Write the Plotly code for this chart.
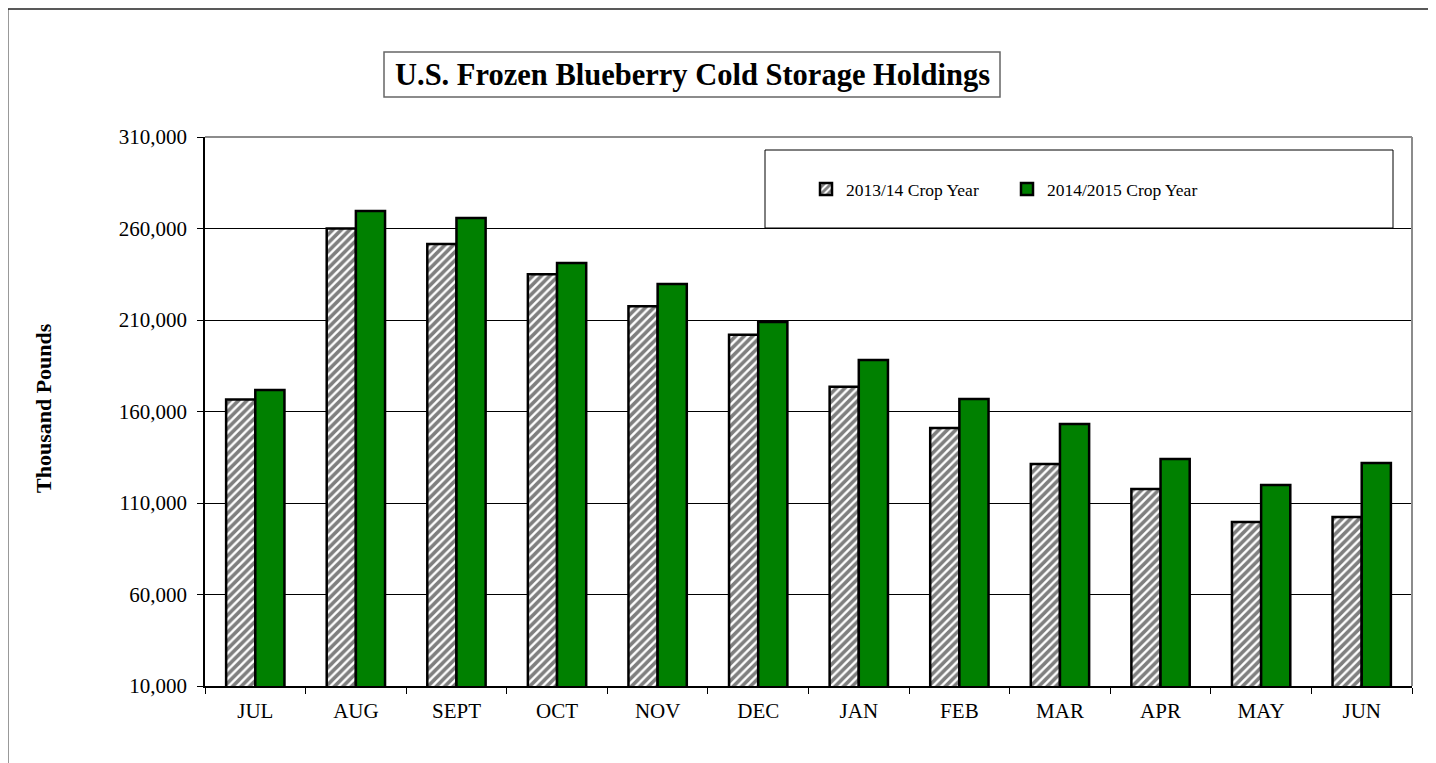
import plotly.graph_objects as go

months = ["JUL", "AUG", "SEPT", "OCT", "NOV", "DEC", "JAN", "FEB", "MAR", "APR", "MAY", "JUN"]
crop_2013_14 = [166500, 260000, 251500, 235000, 217500, 202000, 173500, 151000, 131300, 117700, 99600, 102300]
crop_2014_15 = [171700, 269600, 265700, 241100, 229700, 208900, 188100, 166800, 153200, 134000, 119800, 131900]
series_names = ["2013/14 Crop Year", "2014/2015 Crop Year"]
y_ticks = [10000, 60000, 110000, 160000, 210000, 260000, 310000]

FONT = "Liberation Serif"
OFF = 8  # page body margin

fig = go.Figure()
fig.add_trace(go.Bar(
    x=months, y=crop_2013_14, name=series_names[0],
    marker=dict(color="white", line=dict(color="black", width=2.5),
                pattern=dict(shape="/", fgcolor="black", bgcolor="white", size=6, solidity=0.6)),
))
fig.add_trace(go.Bar(
    x=months, y=crop_2014_15, name=series_names[1],
    marker=dict(color="#008000", line=dict(color="black", width=2.5)),
))

# plot area in page pixel coordinates
L, R, T, B = 205, 1412, 137, 686
W, H = R - L, B - T
def px(x): return (x - L) / W
def py(y): return (B - y) / H

shapes = [
    dict(type="line", xref="paper", yref="paper", x0=px(8), x1=px(8), y0=py(800), y1=py(9),
         line=dict(color="#777", width=1.5), layer="below"),
    dict(type="line", xref="paper", yref="paper", x0=px(8), x1=px(1430), y0=py(9), y1=py(9),
         line=dict(color="#222", width=1.5), layer="below"),
    dict(type="line", xref="paper", yref="paper", x0=px(1430), x1=px(1430), y0=py(800), y1=py(9),
         line=dict(color="#222", width=1.5), layer="below"),
    dict(type="line", xref="paper", yref="paper", x0=0, x1=1, y0=1, y1=1, line=dict(color="#8c8c8c", width=2)),
    dict(type="line", xref="paper", yref="paper", x0=1, x1=1, y0=0, y1=1, line=dict(color="#8c8c8c", width=2)),
    dict(type="rect", xref="paper", yref="paper", x0=px(765), x1=px(1393), y0=py(228), y1=py(150),
         line=dict(color="black", width=1), fillcolor="white", layer="above"),
    dict(type="rect", xref="paper", yref="paper", x0=px(384), x1=px(1000), y0=py(97), y1=py(52),
         line=dict(color="#666", width=1.5), fillcolor="white", layer="above"),
]

fig.update_layout(
    width=1436, height=763,
    margin=dict(l=L - OFF, r=1436 - R + OFF, t=T - OFF, b=763 - B + OFF, autoexpand=False),
    paper_bgcolor="white", plot_bgcolor="white",
    font=dict(family=FONT, color="black", size=21),
    barmode="group", bargap=0.42, bargroupgap=0,
    showlegend=True,
    legend=dict(orientation="h", x=px(806), xanchor="left", y=py(189), yanchor="middle",
                bgcolor="rgba(0,0,0,0)", font=dict(family=FONT, size=17.5), entrywidth=156,
                itemwidth=30, traceorder="normal"),
    shapes=shapes,
    annotations=[
        dict(text="<b>U.S. Frozen Blueberry Cold Storage Holdings</b>", xref="paper", yref="paper",
             x=px(692), y=py(75), xanchor="center", yanchor="middle", showarrow=False,
             font=dict(family=FONT, size=30.5, color="black")),
        dict(text="<b>Thousand Pounds</b>", xref="paper", yref="paper",
             x=px(43), y=py(408), xanchor="center", yanchor="middle", showarrow=False,
             textangle=-90, font=dict(family=FONT, size=22, color="black")),
    ],
    xaxis=dict(type="category", showline=True, linecolor="black", linewidth=1.5,
               ticks="outside", tickson="boundaries", ticklen=6, tickcolor="black",
               showgrid=False, tickfont=dict(family=FONT, size=21), ticklabelstandoff=5),
    yaxis=dict(range=[10000, 310000], tickvals=y_ticks, tickformat=",", showline=True,
               linecolor="black", linewidth=1.5, ticks="outside", ticklen=6, tickcolor="black",
               showgrid=True, gridcolor="black", gridwidth=1, zeroline=False,
               tickfont=dict(family=FONT, size=21), ticklabelstandoff=6),
)

fig.write_html("out.html")
